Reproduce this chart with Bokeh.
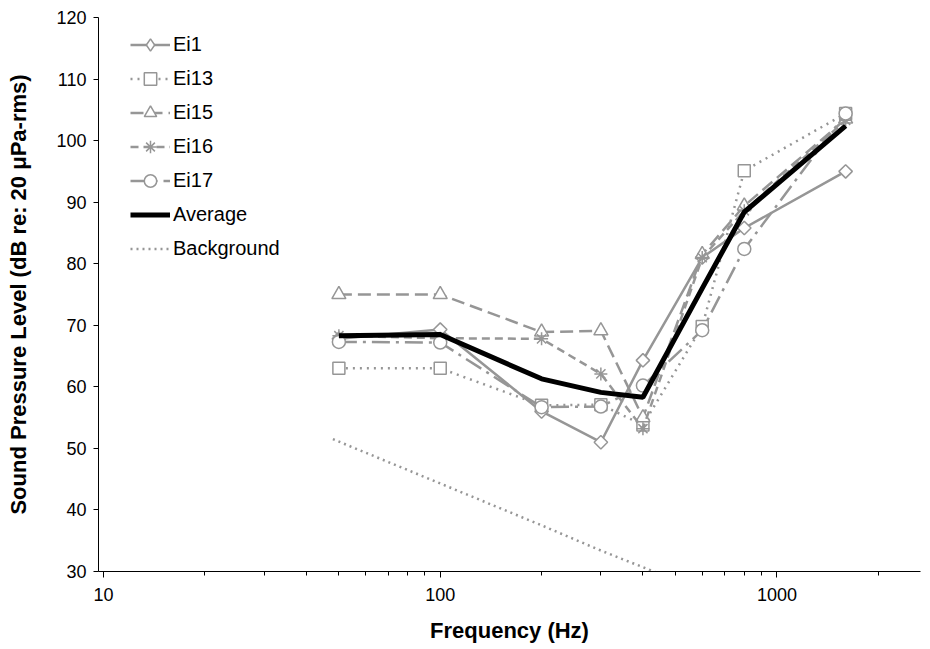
import math
from bokeh.plotting import figure
from bokeh.models import Range1d, FixedTicker, Legend, LegendItem, PrintfTickFormatter
from bokeh.embed import file_html
from bokeh.resources import INLINE

# ---- data ----
freqs = [50, 100, 200, 300, 400, 600, 800, 1600]
ei1 = [67.8, 69.3, 56.0, 51.0, 64.3, 81.0, 85.8, 95.0]
ei13 = [63.0, 63.0, 57.0, 57.1, 53.8, 69.8, 95.1, 104.4]
ei15 = [75.0, 75.0, 68.9, 69.1, 55.0, 81.5, 89.4, 103.5]
ei16 = [68.3, 67.9, 67.8, 62.1, 53.2, 81.0, 88.6, 103.3]
ei17 = [67.3, 67.2, 56.7, 56.8, 60.2, 69.2, 82.4, 104.4]
average = [68.3, 68.5, 61.3, 59.1, 58.3, 76.0, 88.4, 102.4]
bg_freqs = [48, 100, 200, 300, 400, 500]
background = [51.5, 44.3, 37.5, 33.4, 30.7, 28.5]

x_major = [10, 100, 1000]
x_minor = [20, 30, 40, 50, 60, 70, 80, 90, 200, 300, 400, 500, 600, 700, 800, 900, 2000]
y_ticks = [30, 40, 50, 60, 70, 80, 90, 100, 110, 120]

GRAY = "#969696"
FONT = "Liberation Sans"

p = figure(width=925, height=648, x_axis_type="log",
           x_range=Range1d(9.66, 2670), y_range=Range1d(30, 120),
           output_backend="svg", toolbar_location=None,
           min_border_left=98, min_border_right=5, min_border_top=17, min_border_bottom=77)
p.xgrid.visible = False
p.ygrid.visible = False
p.outline_line_color = None
p.background_fill_color = "white"

# axes
xa = p.xaxis[0]
xa.ticker = FixedTicker(ticks=x_major, minor_ticks=x_minor)
xa.formatter = PrintfTickFormatter(format="%d")
xa.axis_label = "Frequency (Hz)"
xa.major_tick_in = 0
xa.major_tick_out = 6
xa.minor_tick_in = 0
xa.minor_tick_out = 4
xa.major_label_standoff = 10
xa.axis_label_standoff = 14

ya = p.yaxis[0]
ya.ticker = FixedTicker(ticks=y_ticks)
ya.axis_label = "Sound Pressure Level (dB re: 20 μPa-rms)"
ya.major_tick_in = 0
ya.major_tick_out = 5
ya.major_label_standoff = 7
ya.axis_label_standoff = 22

for ax in (xa, ya):
    ax.axis_line_color = "black"
    ax.major_tick_line_color = "black"
    ax.major_label_text_font = FONT
    ax.major_label_text_font_size = "18px"
    ax.major_label_text_color = "black"
    ax.axis_label_text_font = FONT
    ax.axis_label_text_font_style = "bold"
    ax.axis_label_text_font_size = "22px"
    ax.axis_label_text_color = "black"
xa.minor_tick_line_color = "black"
ya.minor_tick_line_color = None

items = []

bg = p.line(bg_freqs, background, line_color=GRAY, line_width=2.5, line_dash="2 4")

series = [
    ("Ei1", ei1, "solid", "square", 9.5, math.pi / 4),
    ("Ei13", ei13, "2 5", "square", 12, 0),
    ("Ei15", ei15, "13 6", "triangle", 14, 0),
    ("Ei16", ei16, "8 5", "asterisk", 13, 0),
    ("Ei17", ei17, "18 6 3 6", "circle", 13, 0),
]
for name, vals, dash, marker, size, ang in series:
    ln = p.line(freqs, vals, line_color=GRAY, line_width=2.5, line_dash=dash)
    sc = p.scatter(freqs, vals, marker=marker, size=size, angle=ang,
                   fill_color="white", line_color=GRAY, line_width=1.5)
    rends = [ln, sc]
    if ang != 0:
        # legend proxy (no visible data) so the key shows a diamond shape
        proxy = p.scatter([float("nan")], [float("nan")], marker="diamond", size=size,
                          fill_color="white", line_color=GRAY, line_width=1.5)
        rends = [ln, proxy]
    items.append(LegendItem(label=name, renderers=rends))

avg = p.line(freqs, average, line_color="black", line_width=5)
items.append(LegendItem(label="Average", renderers=[avg]))
items.append(LegendItem(label="Background", renderers=[bg]))

legend = Legend(items=items, location=(32, 307), padding=0, margin=0,
                spacing=3, glyph_width=40, glyph_height=31, label_height=20,
                label_standoff=3, border_line_color=None, background_fill_alpha=0,
                label_text_font=FONT, label_text_font_size="20px", label_text_color="black")
p.add_layout(legend, "center")

open("out.html", "w").write(file_html(p, INLINE))
